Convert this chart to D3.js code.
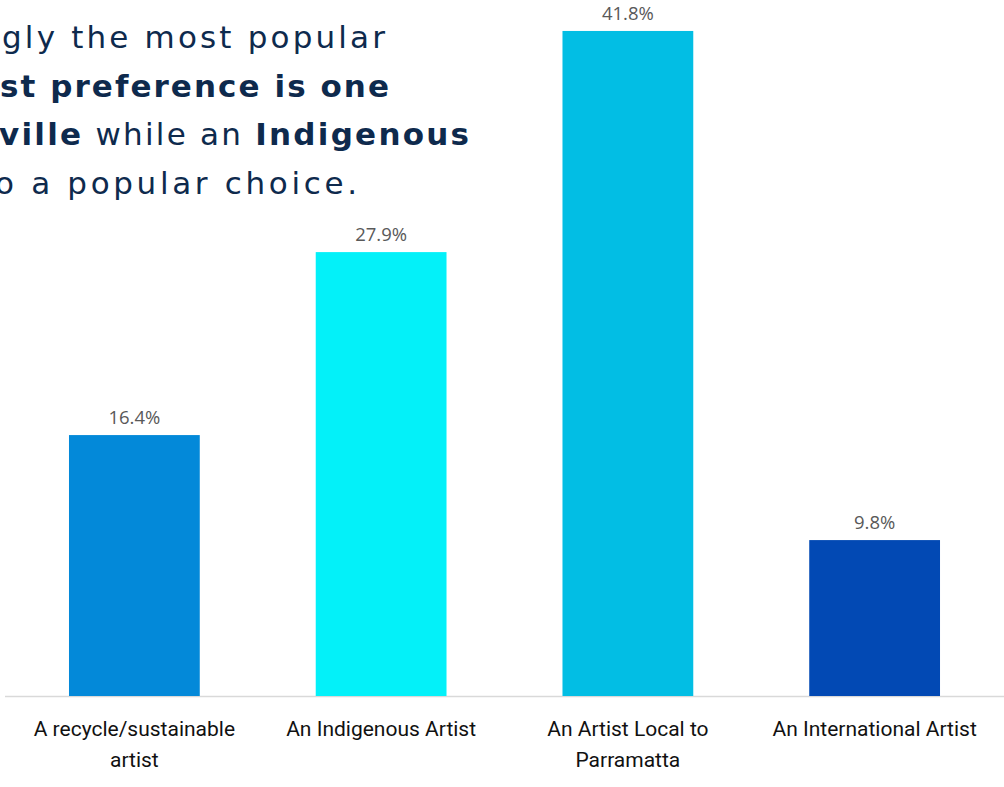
<!DOCTYPE html>
<html>
<head>
<meta charset="utf-8">
<script src="https://cdn.jsdelivr.net/npm/d3@7"></script>
<style>
  body { margin: 0; background: #fff; }
  svg { display: block; }
</style>
</head>
<body>
<div id="chart"></div>
<script>
const categories = ['A recycle/sustainable artist', 'An Indigenous Artist', 'An Artist Local to Parramatta', 'An International Artist']
const values = [16.4, 27.9, 41.8, 9.8]
const valueLabels = ['16.4%', '27.9%', '41.8%', '9.8%']
const tickLabels = [['A recycle/sustainable', 'artist'], ['An Indigenous Artist'], ['An Artist Local to', 'Parramatta'], ['An International Artist']]
const colors = ['#0389d9', '#03f1f9', '#02bee4', '#0249b4']

// headline, cropped on the left in the source slide
const titleLines = [
  [{ t: 'gly the most popular', b: false }],
  [{ t: 'st preference is one', b: true }],
  [{ t: 'ville', b: true }, { t: ' while an ', b: false }, { t: 'Indigenous', b: true }],
  [{ t: 'o a popular choice.', b: false }]
]
const titleEnds = [385, 389, 469, 357]
const titleWidths = [383, 389, 470, 362]

const width = 1004
const height = 787
const baseY = 696

const svg = d3.select('#chart')
  .append('svg')
  .attr('width', width)
  .attr('height', height)

const x = d3.scaleBand()
  .domain(categories)
  .range([11, 998])
  .paddingInner(0.47)
  .paddingOuter(0.235)

const y = d3.scaleLinear()
  .domain([0, 50])
  .range([baseY, baseY - 50 * 15.91])

// axis line
svg.append('line')
  .attr('x1', 5)
  .attr('x2', width)
  .attr('y1', baseY + 0.5)
  .attr('y2', baseY + 0.5)
  .attr('stroke', '#d9d9d9')
  .attr('stroke-width', 1.5)

svg.selectAll('rect.bar')
  .data(values)
  .enter()
  .append('rect')
  .attr('class', 'bar')
  .attr('x', (d, i) => x(categories[i]))
  .attr('y', (d) => y(d))
  .attr('width', x.bandwidth())
  .attr('height', (d) => y(0) - y(d))
  .attr('fill', (d, i) => colors[i])

svg.selectAll('text.val')
  .data(values)
  .enter()
  .append('text')
  .attr('class', 'val')
  .attr('x', (d, i) => x(categories[i]) + x.bandwidth() / 2)
  .attr('y', (d) => y(d) - 11)
  .attr('text-anchor', 'middle')
  .attr('font-family', 'Open Sans, sans-serif')
  .attr('font-size', 18.5)
  .attr('fill', '#595959')
  .text((d, i) => valueLabels[i])

// category axis
const xAxis = d3.axisBottom(x).tickSize(0).tickFormat('')
const gx = svg.append('g')
  .attr('transform', `translate(0,${baseY})`)
  .call(xAxis)
gx.select('.domain').remove()

gx.selectAll('.tick').each(function (d, i) {
  const t = d3.select(this).append('text')
    .attr('text-anchor', 'middle')
    .attr('font-family', 'Roboto, sans-serif')
    .attr('font-size', 21)
    .attr('fill', '#111')
  tickLabels[i].forEach((line, j) => {
    t.append('tspan')
      .attr('x', 0)
      .attr('y', 40 + j * 31)
      .text(line)
  })
})

// headline
const title = svg.append('g')
  .attr('font-family', 'DejaVu Sans, sans-serif')
  .attr('font-size', 31)
  .attr('fill', '#0e2a4d')

titleLines.forEach((parts, i) => {
  const t = title.append('text')
    .attr('x', titleEnds[i])
    .attr('y', 48 + i * 48.5)
    .attr('text-anchor', 'end')
    .attr('textLength', titleWidths[i])
    .attr('lengthAdjust', 'spacing')
  parts.forEach((p) => {
    t.append('tspan')
      .attr('font-weight', p.b ? 700 : 400)
      .text(p.t)
  })
})
</script>
</body>
</html>
